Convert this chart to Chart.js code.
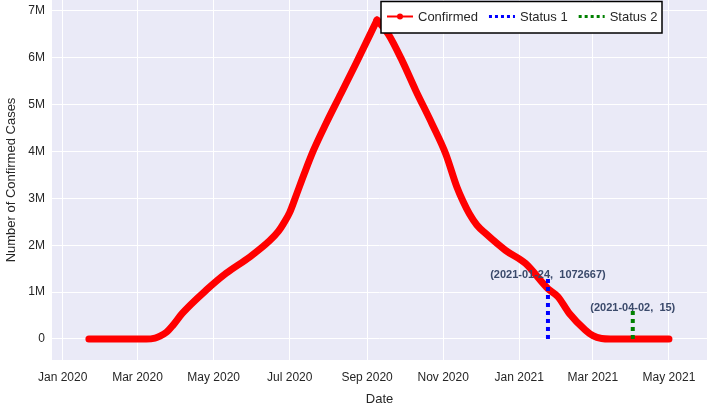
<!DOCTYPE html>
<html>
<head>
<meta charset="utf-8">
<script src="https://cdn.jsdelivr.net/npm/chart.js@4"></script>
<style>
  html, body { margin: 0; padding: 0; background: #ffffff; }
  #wrap { width: 707px; height: 406px; position: relative; }
</style>
</head>
<body>
<div id="wrap"><canvas id="c" width="707" height="406"></canvas></div>
<script>
// ---- data ----
const dates = ['2020-01-22','2020-02-15','2020-03-08','2020-03-15','2020-03-19','2020-03-24','2020-03-29','2020-04-06','2020-04-25','2020-05-11','2020-05-30','2020-06-15','2020-06-22','2020-06-26','2020-07-01','2020-07-06','2020-07-13','2020-07-20','2020-07-30','2020-08-11','2020-08-23','2020-09-09','2020-09-18','2020-09-29','2020-10-10','2020-10-23','2020-11-03','2020-11-12','2020-11-17','2020-11-22','2020-11-28','2020-12-05','2020-12-21','2021-01-06','2021-01-24','2021-02-01','2021-02-10','2021-02-23','2021-03-01','2021-03-08','2021-03-15','2021-04-02','2021-05-01'];
const confirmed = [0,0,0,20000,60000,140000,280000,550000,1040000,1400000,1750000,2100000,2300000,2460000,2700000,3050000,3550000,4020000,4590000,5230000,5870000,6800000,6500000,5940000,5300000,4590000,3950000,3240000,2930000,2670000,2430000,2250000,1890000,1610000,1072667,900000,550000,190000,70000,10000,0,15,0];

const status1Date = '2021-01-24';
const status1Range = [0, 1320000];
const status1Text = '(2021-01-24,  1072667)';
const status2Date = '2021-04-02';
const status2Range = [0, 620000];
const status2Text = '(2021-04-02,  15)';

const xTickDates = ['2020-01-01','2020-03-01','2020-05-01','2020-07-01','2020-09-01','2020-11-01','2021-01-01','2021-03-01','2021-05-01'];
const xTickLabels = ['Jan 2020','Mar 2020','May 2020','Jul 2020','Sep 2020','Nov 2020','Jan 2021','Mar 2021','May 2021'];
const yTickValues = [0,1000000,2000000,3000000,4000000,5000000,6000000,7000000];
const yTickLabels = ['0','1M','2M','3M','4M','5M','6M','7M'];

const seriesNames = ['Confirmed','Status 1','Status 2'];

// ---- helpers ----
const t = s => Date.parse(s + 'T00:00:00Z');
const DAY = 86400000;

const confirmedPts = dates.map((d, i) => ({x: t(d), y: confirmed[i]}));
// split at the peak so the smooth curve keeps its sharp summit
const peakIdx = confirmed.indexOf(Math.max(...confirmed));
const risePts = confirmedPts.slice(0, peakIdx + 1);
const fallPts = confirmedPts.slice(peakIdx);
const s1Pts = status1Range.map(v => ({x: t(status1Date), y: v}));
const s2Pts = status2Range.map(v => ({x: t(status2Date), y: v}));

const FONT = "'Liberation Sans', Arial, sans-serif";
const TEXT = '#262626';

const bgPlugin = {
  id: 'plotBg',
  beforeDraw(chart) {
    const {ctx, chartArea: a} = chart;
    ctx.save();
    ctx.fillStyle = '#EAEAF7';
    ctx.fillRect(a.left, a.top, a.right - a.left, a.bottom - a.top);
    ctx.restore();
  }
};

const annoPlugin = {
  id: 'annos',
  afterDatasetsDraw(chart) {
    const {ctx, scales: {x, y}} = chart;
    ctx.save();
    ctx.font = 'bold 11px ' + FONT;
    ctx.fillStyle = '#3b4a6b';
    ctx.textAlign = 'center';
    ctx.textBaseline = 'middle';
    ctx.fillText(status1Text, x.getPixelForValue(t(status1Date)), y.getPixelForValue(status1Range[1]) - 2);
    ctx.fillText(status2Text, x.getPixelForValue(t(status2Date)), y.getPixelForValue(status2Range[1]) - 2);
    ctx.restore();
  }
};

const legendPlugin = {
  id: 'boxLegend',
  afterDraw(chart) {
    const {ctx} = chart;
    const left = 381, top = 1.5, right = 662, bottom = 33;
    const cy = 16.5;
    ctx.save();
    ctx.fillStyle = '#ffffff';
    ctx.fillRect(left, top, right - left, bottom - top);
    ctx.strokeStyle = '#000000';
    ctx.lineWidth = 1.5;
    ctx.strokeRect(left, top, right - left, bottom - top);
    ctx.font = '13px ' + FONT;
    ctx.textBaseline = 'middle';
    ctx.textAlign = 'left';
    const colors = ['#ff0000', '#0000ff', '#008000'];
    let px = 387;
    seriesNames.forEach((name, i) => {
      ctx.strokeStyle = colors[i];
      if (i === 0) {
        ctx.setLineDash([]);
        ctx.lineWidth = 2;
        ctx.beginPath(); ctx.moveTo(px, cy); ctx.lineTo(px + 26, cy); ctx.stroke();
        ctx.fillStyle = colors[i];
        ctx.beginPath(); ctx.arc(px + 13, cy, 3, 0, Math.PI * 2); ctx.fill();
      } else {
        ctx.setLineDash([3, 3]);
        ctx.lineWidth = 3;
        ctx.beginPath(); ctx.moveTo(px, cy); ctx.lineTo(px + 26, cy); ctx.stroke();
        ctx.setLineDash([]);
      }
      ctx.fillStyle = TEXT;
      ctx.fillText(name, px + 31, cy + 1);
      px += 31 + ctx.measureText(name).width + 11;
    });
    ctx.restore();
  }
};

const redLine = {
  borderColor: '#ff0000', backgroundColor: '#ff0000',
  borderWidth: 7, pointRadius: 0, borderCapStyle: 'round', borderJoinStyle: 'round',
  cubicInterpolationMode: 'monotone', order: 3
};

new Chart(document.getElementById('c'), {
  type: 'line',
  data: {
    datasets: [
      Object.assign({ label: seriesNames[0], data: risePts }, redLine),
      Object.assign({ label: seriesNames[0], data: fallPts }, redLine),
      {
        label: seriesNames[1], data: s1Pts,
        borderColor: '#0000ff', borderWidth: 4, borderDash: [4, 4], pointRadius: 0, order: 2
      },
      {
        label: seriesNames[2], data: s2Pts,
        borderColor: '#008000', borderWidth: 4, borderDash: [4, 4], pointRadius: 0, order: 1
      }
    ]
  },
  options: {
    responsive: false,
    animation: false,
    layout: { padding: 0 },
    plugins: { legend: { display: false }, tooltip: { enabled: false } },
    scales: {
      x: {
        type: 'linear',
        min: t('2019-12-23') + 0.42 * DAY,
        max: t('2021-05-31') + 0.5 * DAY,
        afterBuildTicks(scale) { scale.ticks = xTickDates.map(d => ({value: t(d)})); },
        afterFit(scale) { scale.height = 46; scale.paddingLeft = 0; scale.paddingRight = 0; },
        ticks: {
          padding: 10, maxRotation: 0, autoSkip: false,
          font: { family: FONT, size: 12 }, color: TEXT,
          callback(v) { const i = xTickDates.findIndex(d => t(d) === v); return i >= 0 ? xTickLabels[i] : ''; }
        },
        grid: { color: '#ffffff', lineWidth: 1, drawTicks: false },
        border: { display: false },
        title: { display: true, text: 'Date', color: TEXT, font: { family: FONT, size: 13, lineHeight: 1.0 }, padding: { top: 0, bottom: 0 } }
      },
      y: {
        type: 'linear',
        min: -448000,
        max: 7228000,
        afterBuildTicks(scale) { scale.ticks = yTickValues.map(v => ({value: v})); },
        afterFit(scale) { scale.width = 52; scale.paddingTop = 0; scale.paddingBottom = 0; },
        ticks: {
          padding: 7,
          font: { family: FONT, size: 12 }, color: TEXT,
          callback(v) { const i = yTickValues.indexOf(v); return i >= 0 ? yTickLabels[i] : ''; }
        },
        grid: { color: '#ffffff', lineWidth: 1, drawTicks: false },
        border: { display: false },
        title: { display: true, text: 'Number of Confirmed Cases', color: TEXT, font: { family: FONT, size: 13, lineHeight: 1.2 }, padding: { top: 4, bottom: 0 } }
      }
    }
  },
  plugins: [bgPlugin, annoPlugin, legendPlugin]
});
</script>
</body>
</html>
